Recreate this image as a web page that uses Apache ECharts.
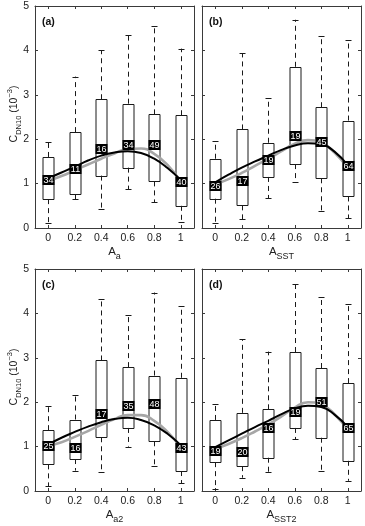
<!DOCTYPE html>
<html><head><meta charset="utf-8">
<script src="https://cdn.jsdelivr.net/npm/echarts@6/dist/echarts.min.js"></script>
<style>html,body{margin:0;padding:0;background:#fff}#c{width:365px;height:526px}</style>
</head><body><div id="c"></div>
<script>
// ---------- data ----------
const xValues = [0, 0.2, 0.4, 0.6, 0.8, 1];
const yTickValues = [0, 1, 2, 3, 4, 5];
const curveX = [0, 0.1, 0.2, 0.3, 0.4, 0.5, 0.6, 0.7, 0.8, 0.9, 1];
const panelLetters = ['(a)', '(b)', '(c)', '(d)'];
const xNameSubs = ['a', 'SST', 'a2', 'SST2'];

// (a)
const aLower  = [0.12, 0.65, 0.42, 0.87, 0.58, 0.13];
const aQ1     = [0.65, 0.76, 1.18, 1.36, 1.05, 0.50];
const aMedian = [0.99, 1.24, 1.69, 1.79, 1.79, 0.95];
const aQ3     = [1.60, 2.16, 2.90, 2.80, 2.56, 2.54];
const aUpper  = [1.93, 3.41, 4.00, 4.34, 4.55, 4.04];
const aCount  = [34, 11, 16, 34, 49, 40];
const aFitBlack = [1.12, 1.25, 1.38, 1.52, 1.63, 1.70, 1.73, 1.69, 1.56, 1.35, 1.08];
const aFitGray  = [1.06, 1.17, 1.30, 1.43, 1.56, 1.68, 1.78, 1.79, 1.67, 1.42, 1.04];

// (b)
const bLower  = [0.12, 0.20, 0.67, 1.04, 0.38, 0.22];
const bQ1     = [0.66, 0.51, 1.15, 1.44, 1.12, 0.71];
const bMedian = [0.85, 0.97, 1.44, 1.98, 1.85, 1.31];
const bQ3     = [1.56, 2.22, 1.92, 3.63, 2.72, 2.42];
const bUpper  = [1.96, 3.94, 2.93, 4.69, 4.33, 4.24];
const bCount  = [26, 17, 19, 19, 45, 64];
const bFitBlack = [1.03, 1.20, 1.36, 1.50, 1.63, 1.76, 1.86, 1.91, 1.88, 1.72, 1.41];
const bFitGray  = [0.98, 1.10, 1.24, 1.40, 1.56, 1.73, 1.90, 1.98, 1.92, 1.70, 1.35];

// (c)
const cLower  = [0.11, 0.46, 0.43, 1.00, 0.57, 0.17];
const cQ1     = [0.60, 0.72, 1.21, 1.42, 1.12, 0.45];
const cMedian = [0.93, 0.87, 1.65, 1.82, 1.88, 0.88];
const cQ3     = [1.37, 1.61, 2.94, 2.79, 2.60, 2.55];
const cUpper  = [1.92, 2.17, 4.32, 3.96, 4.47, 4.16];
const cCount  = [25, 16, 17, 35, 48, 43];
const cFitBlack = [1.05, 1.20, 1.33, 1.45, 1.55, 1.62, 1.65, 1.60, 1.48, 1.29, 1.03];
const cFitGray  = [1.02, 1.10, 1.22, 1.35, 1.49, 1.62, 1.71, 1.71, 1.58, 1.33, 0.98];

// (d)
const dLower  = [0.05, 0.30, 0.42, 1.17, 0.45, 0.23];
const dQ1     = [0.65, 0.56, 0.75, 1.42, 1.20, 0.68];
const dMedian = [0.80, 0.79, 1.34, 1.69, 1.91, 1.34];
const dQ3     = [1.60, 1.76, 1.84, 3.13, 2.77, 2.43];
const dUpper  = [1.97, 3.42, 3.14, 4.66, 4.37, 4.22];
const dCount  = [19, 20, 16, 19, 51, 65];
const dFitBlack = [0.99, 1.14, 1.29, 1.44, 1.58, 1.73, 1.86, 1.92, 1.89, 1.72, 1.44];
const dFitGray  = [0.95, 1.06, 1.19, 1.34, 1.50, 1.68, 1.88, 2.00, 1.95, 1.73, 1.38];

// ---------- build ----------
const panels = [
  {lower:aLower,q1:aQ1,med:aMedian,q3:aQ3,upper:aUpper,count:aCount,black:aFitBlack,gray:aFitGray},
  {lower:bLower,q1:bQ1,med:bMedian,q3:bQ3,upper:bUpper,count:bCount,black:bFitBlack,gray:bFitGray},
  {lower:cLower,q1:cQ1,med:cMedian,q3:cQ3,upper:cUpper,count:cCount,black:cFitBlack,gray:cFitGray},
  {lower:dLower,q1:dQ1,med:dMedian,q3:dQ3,upper:dUpper,count:dCount,black:dFitBlack,gray:dFitGray}
];
const FONT = '"Liberation Sans", Arial, Helvetica, sans-serif';
const AXC = '#3a3a3a';
const TXT = '#222';
const grids = [
  {left: 35,  top: 6,   width: 159, height: 222},
  {left: 202, top: 6,   width: 159, height: 222},
  {left: 35,  top: 269, width: 159, height: 222},
  {left: 202, top: 269, width: 159, height: 222}
];

function renderBox(params, api) {
  const x = api.value(0);
  const lo = api.coord([x, api.value(1)]);
  const q1 = api.coord([x, api.value(2)]);
  const md = api.coord([x, api.value(3)]);
  const q3 = api.coord([x, api.value(4)]);
  const hi = api.coord([x, api.value(5)]);
  const cx = Math.round(lo[0]) + 0.5;
  const hw = 5.5, cw = 3;
  const solid = {stroke: '#1a1a1a', lineWidth: 1, fill: null};
  const dash = {stroke: '#1a1a1a', lineWidth: 1, lineDash: [5, 4], fill: null};
  return {type: 'group', children: [
    {type: 'line', shape: {x1: cx, y1: q3[1], x2: cx, y2: hi[1]}, style: dash},
    {type: 'line', shape: {x1: cx, y1: q1[1], x2: cx, y2: lo[1]}, style: dash},
    {type: 'line', shape: {x1: cx - cw, y1: Math.round(hi[1]) + 0.5, x2: cx + cw, y2: Math.round(hi[1]) + 0.5}, style: solid},
    {type: 'line', shape: {x1: cx - cw, y1: Math.round(lo[1]) + 0.5, x2: cx + cw, y2: Math.round(lo[1]) + 0.5}, style: solid},
    {type: 'rect', shape: {x: cx - hw, y: Math.round(q3[1]) + 0.5, width: 2 * hw, height: Math.round(q1[1]) - Math.round(q3[1])}, style: solid},
    {type: 'line', shape: {x1: cx - hw, y1: md[1], x2: cx + hw, y2: md[1]}, style: solid}
  ]};
}
function renderLabel(params, api) {
  const x = api.value(0);
  const p = api.coord([x, api.value(1)]);
  const cx = Math.round(p[0]) + 0.5;
  const w = 12, h = 10;
  const yb = Math.round(p[1]) + 1;
  return {type: 'group', children: [
    {type: 'rect', shape: {x: cx - w / 2, y: yb - h, width: w, height: h}, style: {fill: '#000'}},
    {type: 'text', x: cx, y: yb - h / 2 + 0.5, style: {text: String(api.value(2)), fill: '#fff', font: '9px ' + FONT, align: 'center', verticalAlign: 'middle'}}
  ]};
}

const xAxes = [], yAxes = [], series = [], graphics = [];
panels.forEach((p, i) => {
  const lineStyle = {color: AXC, width: 1};
  xAxes.push({
    gridIndex: i, type: 'value', min: -0.1, max: 1.1, position: 'bottom',
    axisLine: {show: true, onZero: false, lineStyle},
    axisTick: {show: true, inside: true, length: 3, customValues: xValues, lineStyle},
    axisLabel: {show: true, customValues: xValues, fontSize: 10.5, color: TXT, fontFamily: FONT, margin: 5},
    splitLine: {show: false},
    name: '{m|A}{s|' + xNameSubs[i] + '}', nameLocation: 'middle', nameGap: 18,
    nameTextStyle: {rich: {
      m: {fontSize: 11.5, fontFamily: FONT, color: TXT, lineHeight: 13, verticalAlign: 'top'},
      s: {fontSize: 9, fontFamily: FONT, color: TXT, lineHeight: 10, padding: [6, 0, 0, 0], verticalAlign: 'top'}
    }}
  });
  xAxes.push({
    gridIndex: i, type: 'value', min: -0.1, max: 1.1, position: 'top',
    axisLine: {show: true, onZero: false, lineStyle},
    axisTick: {show: true, inside: true, length: 3, customValues: xValues, lineStyle},
    axisLabel: {show: false, customValues: xValues},
    splitLine: {show: false}
  });
  yAxes.push({
    gridIndex: i, type: 'value', min: 0, max: 5, interval: 1, position: 'left',
    axisLine: {show: true, onZero: false, lineStyle},
    axisTick: {show: true, inside: true, length: 3, lineStyle},
    axisLabel: {show: i % 2 === 0, fontSize: 10.5, color: TXT, fontFamily: FONT, margin: 6,
      formatter: v => (yTickValues.indexOf(v) >= 0 ? String(v) : '')},
    splitLine: {show: false}
  });
  yAxes.push({
    gridIndex: i, type: 'value', min: 0, max: 5, interval: 1, position: 'right',
    axisLine: {show: true, onZero: false, lineStyle},
    axisTick: {show: true, inside: true, length: 3, lineStyle},
    axisLabel: {show: false},
    splitLine: {show: false}
  });
  const xi = 2 * i, yi = 2 * i;
  series.push({
    type: 'custom', xAxisIndex: xi, yAxisIndex: yi, z: 2, silent: true,
    renderItem: renderBox,
    encode: {x: 0, y: [1, 2, 3, 4, 5]},
    data: xValues.map((x, k) => [x, p.lower[k], p.q1[k], p.med[k], p.q3[k], p.upper[k]])
  });
  series.push({
    type: 'line', xAxisIndex: xi, yAxisIndex: yi, z: 3, smooth: true, showSymbol: false, silent: true,
    lineStyle: {color: '#a6a6a6', width: 2.6},
    data: curveX.map((x, k) => [x, p.gray[k]])
  });
  series.push({
    type: 'line', xAxisIndex: xi, yAxisIndex: yi, z: 4, smooth: true, showSymbol: false, silent: true,
    lineStyle: {color: '#000', width: 2},
    data: curveX.map((x, k) => [x, p.black[k]])
  });
  series.push({
    type: 'custom', xAxisIndex: xi, yAxisIndex: yi, z: 5, silent: true,
    renderItem: renderLabel,
    encode: {x: 0, y: 1},
    data: xValues.map((x, k) => [x, p.med[k], p.count[k]])
  });
  graphics.push({
    type: 'text', x: grids[i].left + 7, y: grids[i].top + 16,
    style: {text: panelLetters[i], font: 'bold 10.5px ' + FONT, fill: '#111', align: 'left', verticalAlign: 'middle'}
  });
  if (i % 2 === 0) {
    graphics.push({
      type: 'text', x: 12, y: grids[i].top + 108, rotation: Math.PI / 2,
      style: {
        text: '{m|C}{s|DN10}{m| (10}{p|−3}{m|)}', align: 'center', verticalAlign: 'middle',
        rich: {
          m: {fontSize: 10.5, fontFamily: FONT, fill: TXT, lineHeight: 12, padding: [3, 0, 0, 0], verticalAlign: 'top'},
          s: {fontSize: 7.5, fontFamily: FONT, fill: TXT, lineHeight: 9, padding: [9, 0, 0, 0], verticalAlign: 'top'},
          p: {fontSize: 7.5, fontFamily: FONT, fill: TXT, lineHeight: 9, padding: [0, 0, 0, 0], verticalAlign: 'top'}
        }
      }
    });
  }
});

const chart = echarts.init(document.getElementById('c'), null, {renderer: 'canvas'});
chart.setOption({
  animation: false,
  backgroundColor: '#fff',
  grid: grids.map(g => Object.assign({containLabel: false}, g)),
  xAxis: xAxes,
  yAxis: yAxes,
  series: series,
  graphic: graphics
});
</script>
</body></html>
